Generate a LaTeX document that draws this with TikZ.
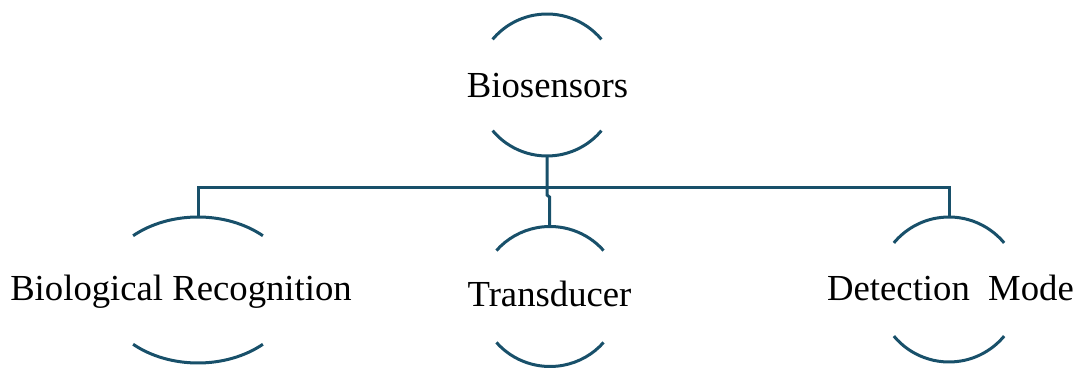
\documentclass[tikz,border=0pt]{standalone}
\usepackage{fontspec}
\setmainfont{Liberation Serif}
\usetikzlibrary{shapes.geometric,calc}
\definecolor{teal}{RGB}{24,80,106}
\begin{document}
\begin{tikzpicture}[x=1pt,y=1pt,
  ring/.style={ellipse,draw=none,inner sep=0pt,outer sep=0pt},
  arcline/.style={draw=teal,line width=3pt},
  link/.style={draw=teal,line width=3pt},
  lbl/.style={anchor=base,inner sep=0pt,font=\fontsize{36.7}{44}\selectfont}]
\useasboundingbox (0,0) rectangle (1078,369);

% invisible rings that carry the arcs and connector anchors
\node[ring,minimum width=142pt,minimum height=142pt] (rootC) at (547,284) {};
\node[ring,minimum width=194pt,minimum height=146pt] (bioC) at (198,79) {};
\node[ring,minimum width=142pt,minimum height=140pt] (transC) at (550,72.5) {};
\node[ring,minimum width=144pt,minimum height=145pt] (detC) at (949,79.5) {};

% labels
\node[lbl] (root) at (547.5,271) {Biosensors};
\node[lbl] (bio) at (181,68) {Biological Recognition};
\node[lbl] (trans) at (549.5,62) {Transducer};
\node[lbl] (det) at (950.5,68) {Detection\ \ Mode};

% broken rings: an arc above and below each label
\draw[arcline] (rootC.center) ++(40:71 and 71) arc[start angle=40,end angle=140,x radius=71,y radius=71];
\draw[arcline] (rootC.center) ++(220:71 and 71) arc[start angle=220,end angle=320,x radius=71,y radius=71];
\draw[arcline] (bioC.center) ++(48:97 and 73) arc[start angle=48,end angle=132,x radius=97,y radius=73];
\draw[arcline] (bioC.center) ++(228:97 and 73) arc[start angle=228,end angle=312,x radius=97,y radius=73];
\draw[arcline] (transC.center) ++(41:71 and 70) arc[start angle=41,end angle=139,x radius=71,y radius=70];
\draw[arcline] (transC.center) ++(221:71 and 70) arc[start angle=221,end angle=319,x radius=71,y radius=70];
\draw[arcline] (detC.center) ++(40:72 and 72.5) arc[start angle=40,end angle=140,x radius=72,y radius=72.5];
\draw[arcline] (detC.center) ++(220:72 and 72.5) arc[start angle=220,end angle=320,x radius=72,y radius=72.5];

% tree connectors
\coordinate (bus) at (0,181);
\draw[link] (bioC.north) -- (bioC.north |- bus) -- (detC.north |- bus) -- (detC.north);
\draw[link] (rootC.south) -- ++(0,-39) -- ++(2.5,-2) |- (transC.north);
\end{tikzpicture}
\end{document}
